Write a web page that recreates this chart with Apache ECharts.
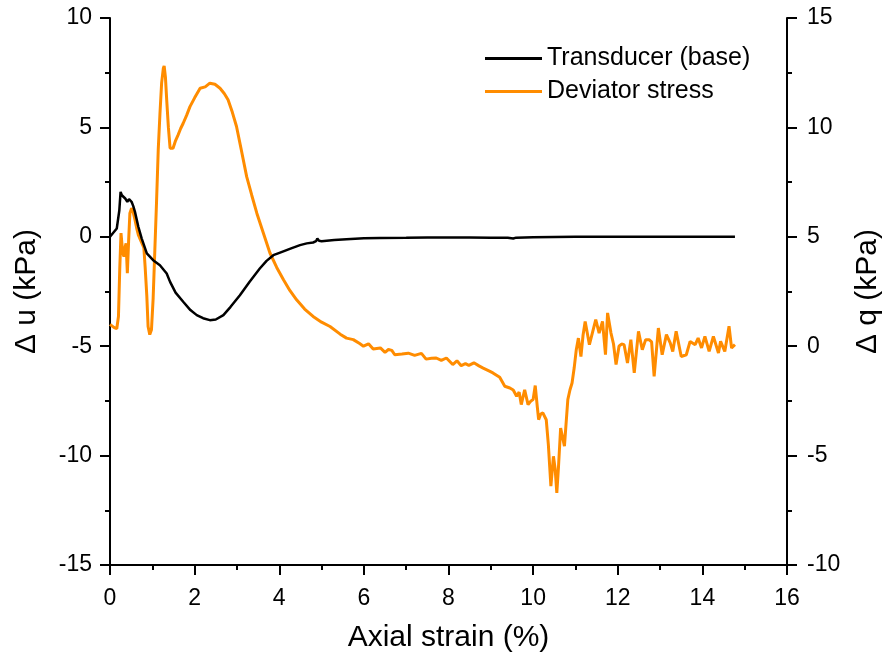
<!DOCTYPE html>
<html><head><meta charset="utf-8">
<script src="https://cdn.jsdelivr.net/npm/echarts@6/dist/echarts.min.js"></script>
<style>html,body{margin:0;padding:0;background:#fff}#c{width:887px;height:666px}</style>
</head><body><div id="c"></div>
<script>
// Axial strain (%) for Δu series (transducer, base)
const uStrain = [0, 0.04, 0.16, 0.22, 0.25, 0.28, 0.31, 0.36, 0.41, 0.45, 0.51, 0.55, 0.59, 0.67, 0.75, 0.87, 1.02, 1.18, 1.34, 1.42, 1.55, 1.73, 1.9, 2.05, 2.2, 2.36, 2.5, 2.68, 2.85, 3.07, 3.3, 3.54, 3.7, 3.86, 4.02, 4.25, 4.49, 4.65, 4.8, 4.87, 4.9, 4.94, 5.0, 5.3, 5.59, 6.0, 6.38, 7.0, 7.5, 7.96, 8.5, 9.0, 9.4, 9.53, 9.6, 10.0, 11.0, 12.0, 13.0, 14.0, 14.77];
const uValue  = [0, 0.02, 0.38, 1.2, 2.05, 1.9, 1.98, 1.75, 1.6, 1.72, 1.6, 1.4, 1.14, 0.46, -0.08, -0.76, -1.07, -1.3, -1.68, -2.06, -2.55, -2.97, -3.35, -3.58, -3.72, -3.81, -3.78, -3.58, -3.2, -2.67, -2.05, -1.45, -1.1, -0.84, -0.72, -0.55, -0.38, -0.3, -0.26, -0.2, -0.08, -0.18, -0.2, -0.15, -0.11, -0.07, -0.05, -0.04, -0.03, -0.03, -0.03, -0.04, -0.04, -0.08, -0.04, -0.02, 0, 0, 0, 0, 0];

// Axial strain (%) for Δq series (deviator stress)
const qStrain = [0, 0.04, 0.1, 0.16, 0.2, 0.23, 0.26, 0.3, 0.33, 0.36, 0.38, 0.41, 0.44, 0.47, 0.51, 0.55, 0.59, 0.63, 0.67, 0.72, 0.76, 0.8, 0.83, 0.87, 0.9, 0.94, 0.98, 1.02, 1.06, 1.1, 1.14, 1.18, 1.22, 1.26, 1.28, 1.31, 1.34, 1.38, 1.42, 1.46, 1.49, 1.55, 1.61, 1.67, 1.73, 1.81, 1.89, 2.0, 2.13, 2.25, 2.36, 2.48, 2.6, 2.7, 2.79, 2.89, 2.99, 3.1, 3.23, 3.35, 3.47, 3.62, 3.78, 3.94, 4.1, 4.25, 4.41, 4.6, 4.8, 5.0, 5.2, 5.44, 5.59, 5.75, 5.9, 5.99, 6.11, 6.22, 6.39, 6.5, 6.58, 6.66, 6.73, 6.9, 7.05, 7.2, 7.36, 7.47, 7.6, 7.71, 7.83, 7.95, 8.1, 8.2, 8.3, 8.4, 8.48, 8.6, 8.72, 8.82, 8.98, 9.05, 9.21, 9.33, 9.45, 9.53, 9.61, 9.67, 9.72, 9.8, 9.88, 9.95, 10.0, 10.05, 10.1, 10.13, 10.18, 10.23, 10.31, 10.36, 10.42, 10.48, 10.52, 10.56, 10.6, 10.65, 10.7, 10.74, 10.82, 10.87, 10.92, 10.97, 11.02, 11.07, 11.13, 11.18, 11.23, 11.28, 11.33, 11.41, 11.48, 11.56, 11.64, 11.71, 11.76, 11.84, 11.9, 11.96, 12.03, 12.09, 12.15, 12.23, 12.31, 12.39, 12.49, 12.58, 12.66, 12.74, 12.8, 12.86, 12.96, 13.05, 13.15, 13.24, 13.3, 13.38, 13.5, 13.62, 13.71, 13.83, 13.9, 13.98, 14.06, 14.16, 14.26, 14.38, 14.43, 14.53, 14.63, 14.69, 14.77];
const qValue  = [1.0, 0.98, 0.85, 0.8, 1.36, 3.5, 5.17, 4.26, 4.1, 4.56, 4.7, 3.34, 4.8, 6.08, 6.31, 6.1, 5.78, 5.4, 5.09, 4.86, 4.94, 4.5, 3.64, 2.3, 0.9, 0.53, 0.75, 2.2, 4.41, 6.6, 8.97, 10.6, 12.02, 12.7, 12.81, 12.3, 11.26, 10.0, 9.05, 9.0, 9.05, 9.4, 9.66, 9.95, 10.19, 10.55, 10.95, 11.35, 11.79, 11.85, 12.02, 11.97, 11.79, 11.55, 11.26, 10.7, 10.04, 9.0, 7.75, 6.9, 6.08, 5.2, 4.26, 3.6, 3.04, 2.55, 2.12, 1.7, 1.36, 1.1, 0.9, 0.55, 0.37, 0.3, 0.12, 0.0, 0.11, -0.13, -0.08, -0.28, -0.15, -0.19, -0.39, -0.36, -0.32, -0.42, -0.33, -0.59, -0.55, -0.54, -0.65, -0.54, -0.84, -0.67, -0.89, -0.8, -0.88, -0.76, -0.9, -1.0, -1.15, -1.22, -1.42, -1.83, -1.91, -2.0, -2.29, -2.1, -2.67, -1.99, -2.67, -2.5, -2.44, -1.8, -2.8, -3.36, -3.1, -3.05, -3.36, -4.5, -6.4, -5.03, -5.6, -6.7, -5.5, -3.74, -4.2, -4.57, -2.44, -2.0, -1.68, -1.0, -0.16, 0.37, -0.47, 0.5, 1.13, 0.6, 0.07, 0.68, 1.21, 0.6, 1.13, -0.39, 1.52, 0.6, 0.1, -0.84, 0.0, 0.1, 0.07, -0.77, 0.3, -1.22, 0.68, -0.16, 0.3, 0.3, 0.2, -1.38, 0.83, -0.39, 0.53, 0.15, -0.24, 0.68, -0.47, -0.39, 0.22, 0.07, 0.37, -0.08, 0.45, -0.24, 0.45, -0.31, 0.22, -0.24, 0.91, -0.08, 0.07];

const seriesNames = ['Transducer (base)', 'Deviator stress'];
const axisNames = ['Axial strain (%)', 'Δ u (kPa)', 'Δ q (kPa)'];

const zip = (a, b) => a.map((v, i) => [v, b[i]]);
const FONT = 'Liberation Sans';
const axisCommon = {
  axisLine: { show: true, onZero: false, lineStyle: { color: '#000', width: 2 } },
  axisTick: { show: true, inside: false, length: 10, lineStyle: { color: '#000', width: 2 } },
  minorTick: { show: true, splitNumber: 2, length: 5, lineStyle: { color: '#000', width: 2 } },
  splitLine: { show: false },
  axisLabel: { color: '#000', fontSize: 23, fontFamily: FONT, margin: 18 },
  nameTextStyle: { color: '#000', fontSize: 30, fontFamily: FONT },
  nameLocation: 'middle'
};
const lbl = (m) => Object.assign({}, axisCommon.axisLabel, { margin: m });

const chart = echarts.init(document.getElementById('c'), null, { renderer: 'canvas' });
chart.setOption({
  animation: false,
  backgroundColor: '#fff',
  grid: { left: 110, right: 100, top: 18, bottom: 101, containLabel: false, outerBoundsMode: 'none' },
  legend: {
    orient: 'vertical', left: 480, top: 41, itemWidth: 57, itemHeight: 3, itemGap: 8,
    icon: 'rect',
    textStyle: { color: '#000', fontSize: 25, fontFamily: FONT },
    data: seriesNames
  },
  xAxis: Object.assign({}, axisCommon, {
    type: 'value', min: 0, max: 16, interval: 2, name: axisNames[0], nameGap: 58, axisLabel: lbl(22)
  }),
  yAxis: [
    Object.assign({}, axisCommon, {
      type: 'value', min: -15, max: 10, interval: 5, position: 'left', name: axisNames[1], nameGap: 68, axisLabel: lbl(18)
    }),
    Object.assign({}, axisCommon, {
      type: 'value', min: -10, max: 15, interval: 5, position: 'right', name: axisNames[2], nameGap: 66, axisLabel: lbl(20)
    })
  ],
  series: [
    { name: seriesNames[0], type: 'line', yAxisIndex: 0, data: zip(uStrain, uValue), showSymbol: false, symbol: 'none',
      lineStyle: { color: '#000', width: 2.5 }, itemStyle: { color: '#000' }, z: 3 },
    { name: seriesNames[1], type: 'line', yAxisIndex: 1, data: zip(qStrain, qValue), showSymbol: false, symbol: 'none',
      lineStyle: { color: '#ff8c00', width: 3 }, itemStyle: { color: '#ff8c00' }, z: 2 }
  ]
});
</script></body></html>
